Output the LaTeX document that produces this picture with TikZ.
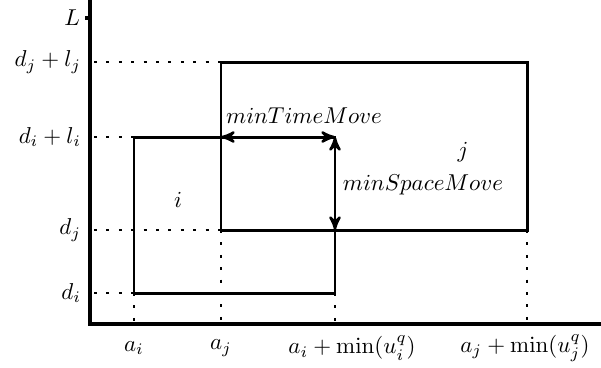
\documentclass[tikz,border=0pt]{standalone}
\usepackage{amsmath}
\usetikzlibrary{arrows,positioning}

\begin{document}
\begin{tikzpicture}[
    x=0.0153cm, y=-0.0153cm,
    axis/.style={line width=1.5pt},
    block/.style={line width=1.3pt},
    guide/.style={line width=1.2pt, dash pattern=on 1.3pt off 4.1pt},
    move/.style={<->, >=stealth', line width=1.1pt, densely dashed},
    ylab/.style={left, inner sep=2pt},
    xlab/.style={inner sep=1pt}
]
    \useasboundingbox (0,0) rectangle (601,367);

    % Axes
    \coordinate (origin) at (90,324);
    \coordinate (ytop)   at (90,0);
    \coordinate (xend)   at (601,324);
    \coordinate (ltick)  at (90,18);
    \coordinate (lend)   at (85,18);
    \draw[axis] (ytop) -- (origin) -- (xend);
    \draw[axis] (ltick) -- (lend);
    \node[ylab] (llab) at (lend) {$L$};

    % Corners of the two blocks
    \coordinate (ilow)  at (134,293);
    \coordinate (ihigh) at (335,137);
    \coordinate (jlow)  at (221,230);
    \coordinate (jhigh) at (527,62);

    % Guide lines to the axes
    \coordinate (gdjl) at (94,62);
    \coordinate (gdil) at (94,137);
    \coordinate (gdj)  at (94,230);
    \coordinate (gdi)  at (94,293);
    \draw[guide] (gdjl) -- (221,62);
    \draw[guide] (gdil) -- (ilow |- ihigh);
    \draw[guide] (gdj)  -- (jlow);
    \draw[guide] (gdi)  -- (ilow);
    \draw[guide] (ilow)  -- (ilow |- origin);
    \draw[guide] (jlow)  -- (jlow |- origin);
    \draw[guide] (ihigh |- ilow) -- (ihigh |- origin);
    \draw[guide] (jhigh |- jlow) -- (jhigh |- origin);

    % Blocks
    \draw[block] (ilow) rectangle (ihigh);
    \draw[block] (jlow) rectangle (jhigh);
    \node (iname) at (178,200) {$i$};
    \node (jname) at (463,152) {$j$};

    % Minimal moves
    \coordinate (tstart) at (jlow |- ihigh);
    \coordinate (sstop)  at (ihigh |- jlow);
    \draw[move] (tstart) -- (ihigh);
    \draw[move] (ihigh) -- (sstop);
    \node (tmove) at (304,116) {$minTimeMove$};
    \node (smove) at (423,185) {$minSpaceMove$};

    % Axis labels
    \node[ylab] (ldjl) at (86,62)  {$d_j+l_j$};
    \node[ylab] (ldil) at (86,137) {$d_i+l_i$};
    \node[ylab] (ldj)  at (86,230) {$d_j$};
    \node[ylab] (ldi)  at (86,293) {$d_i$};
    \node[xlab] (lai)  at (134,348) {$a_i$};
    \node[xlab] (laj)  at (221,348) {$a_j$};
    \node[xlab] (lain) at (352,348) {$a_i+\min(u_i^q)$};
    \node[xlab] (lajn) at (525,348) {$a_j+\min(u_j^q)$};

\end{tikzpicture}
\end{document}
